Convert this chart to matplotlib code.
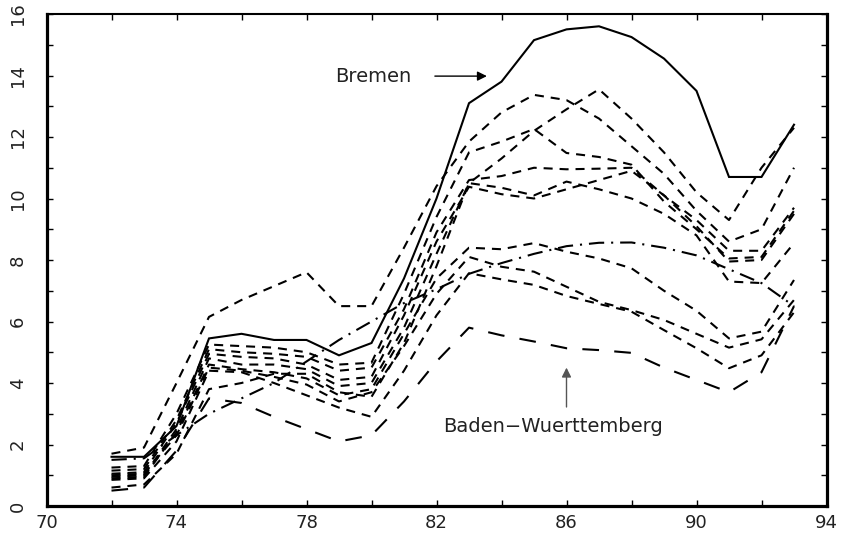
import matplotlib
matplotlib.use("Agg")
import matplotlib.pyplot as plt
from matplotlib.ticker import MultipleLocator

plt.rcParams['lines.scale_dashes'] = False
plt.rcParams['font.family'] = ['DejaVu Sans']

years = list(range(72, 94))

bremen = [1.6, 1.6, 2.6, 5.45, 5.6, 5.4, 5.4, 4.9, 5.3, 7.4, 10.0, 13.1, 13.8, 15.15,
          15.5, 15.6, 15.25, 14.55, 13.5, 10.7, 10.7, 12.4]
baden_wuerttemberg = [0.5, 0.6, 1.8, 3.5, 3.35, 2.9, 2.5, 2.1, 2.3, 3.4, 4.7, 5.8, 5.55,
                      5.35, 5.13, 5.07, 4.98, 4.5, 4.1, 3.7, 4.35, 6.5]
dashdot_series = [1.5, 1.55, 2.3, 3.0, 3.5, 4.0, 4.7, 5.4, 6.0, 6.6, 7.05, 7.55, 7.9,
                  8.2, 8.45, 8.56, 8.57, 8.4, 8.15, 7.7, 7.25, 6.5]

dashed_1 = [1.7, 1.9, 4.0, 6.15, 6.7, 7.15, 7.6, 6.5, 6.5, 8.4, 10.4, 11.85, 12.8, 13.37,
            13.2, 12.6, 11.7, 10.8, 9.6, 8.6, 9.0, 11.0]
dashed_2 = [1.25, 1.3, 3.0, 5.25, 5.2, 5.15, 5.0, 4.6, 4.66, 6.9, 9.4, 11.5, 11.85, 12.26,
            11.48, 11.35, 11.1, 9.9, 9.0, 8.05, 8.1, 9.6]
dashed_3 = [0.6, 0.7, 1.7, 3.8, 4.0, 4.3, 4.3, 3.7, 3.55, 5.3, 7.8, 10.5, 11.3, 12.2,
            12.9, 13.55, 12.6, 11.5, 10.2, 9.3, 11.0, 12.3]
dashed_4 = [1.15, 1.2, 2.8, 5.1, 5.0, 4.95, 4.85, 4.4, 4.5, 6.4, 8.9, 10.6, 10.73, 11.0,
            10.95, 10.97, 11.0, 10.1, 9.1, 7.95, 8.0, 9.5]
dashed_5 = [1.05, 1.1, 2.7, 4.95, 4.85, 4.8, 4.6, 4.1, 4.2, 6.2, 8.6, 10.38, 10.14, 10.0,
            10.3, 10.6, 10.9, 10.1, 9.3, 8.3, 8.3, 9.7]
dashed_6 = [0.95, 1.0, 2.5, 4.8, 4.6, 4.6, 4.45, 3.9, 4.0, 5.8, 8.2, 10.5, 10.35, 10.1,
            10.55, 10.3, 10.0, 9.5, 8.8, 7.3, 7.25, 8.55]
dashed_7 = [0.9, 0.95, 2.4, 4.6, 4.45, 4.35, 4.15, 3.6, 3.8, 5.6, 7.4, 8.4, 8.35, 8.55,
            8.27, 8.05, 7.73, 7.0, 6.35, 5.45, 5.67, 7.35]
dashed_8 = [1.0, 1.05, 2.3, 4.5, 4.4, 4.2, 3.95, 3.4, 3.7, 5.2, 6.9, 8.1, 7.78, 7.62,
            7.13, 6.64, 6.37, 6.05, 5.6, 5.15, 5.42, 6.7]
dashed_9 = [0.85, 0.9, 2.1, 4.4, 4.35, 4.0, 3.6, 3.2, 2.9, 4.4, 6.2, 7.57, 7.37, 7.19,
            6.83, 6.57, 6.32, 5.72, 5.13, 4.48, 4.9, 6.3]

dashed_series = [dashed_1, dashed_2, dashed_3, dashed_4, dashed_5, dashed_6,
                 dashed_7, dashed_8, dashed_9]

xticks = [70, 74, 78, 82, 86, 90, 94]
yticks = [0, 2, 4, 6, 8, 10, 12, 14, 16]

fig = plt.figure(figsize=(8.49, 5.38), dpi=100)
ax = fig.add_axes([46.5 / 849, 1 - 506 / 538, 780 / 849, 492 / 538])

lw = 1.5
for s in dashed_series:
    ax.plot(years, s, color='black', lw=lw, dashes=(6.5, 5))
ax.plot(years, dashdot_series, color='black', lw=lw, dashes=(11, 5, 1.5, 5))
ax.plot(years, baden_wuerttemberg, color='black', lw=lw, dashes=(12, 11))
ax.plot(years, bremen, color='black', lw=1.5, solid_joinstyle='miter')

ax.set_xlim(70, 94)
ax.set_ylim(0, 16)
ax.set_xticks(xticks)
ax.set_yticks(yticks)
ax.xaxis.set_minor_locator(MultipleLocator(2))
ax.yaxis.set_minor_locator(MultipleLocator(1))
ax.tick_params(axis='both', which='both', direction='in', top=True, right=True,
               length=4.5, width=1, labelsize=13, colors='black')
ax.tick_params(axis='x', which='major', pad=6)
ax.tick_params(axis='y', which='major', pad=14)
for lab in ax.get_yticklabels():
    lab.set_rotation(90)
    lab.set_va('center')
for lab in ax.get_xticklabels() + ax.get_yticklabels():
    lab.set_color('#222222')

for side in ['left', 'bottom', 'right']:
    ax.spines[side].set_linewidth(2.3)
ax.spines['top'].set_linewidth(1.5)

ax.text(78.88, 13.98, 'Bremen', fontsize=14, color='#222222', va='center', ha='left')
ax.annotate('', xy=(83.55, 13.98), xytext=(81.95, 13.98),
            arrowprops=dict(arrowstyle='-|>', color='black', lw=1.0,
                            mutation_scale=14, shrinkA=0, shrinkB=0))

ax.text(85.57, 2.58, 'Baden\u2212Wuerttemberg', fontsize=14, color='#222222',
        va='center', ha='center')
ax.annotate('', xy=(86.0, 4.5), xytext=(86.0, 3.22),
            arrowprops=dict(arrowstyle='-|>', color='#555555', lw=1.0,
                            mutation_scale=14, shrinkA=0, shrinkB=0))

fig.savefig('out.png', dpi=100)
